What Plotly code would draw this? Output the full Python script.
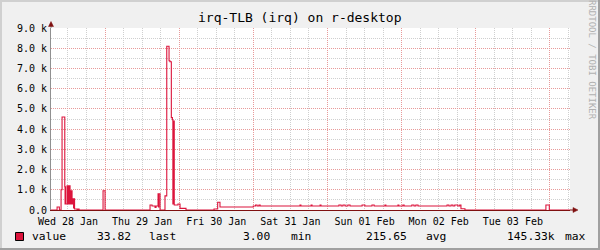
import pandas as pd
import plotly.graph_objects as go

# ---- data (hours since Wed 28 Jan 00:00, value in irq/s; step series) ----
hours = [6.5, 8.47, 9.21, 9.76, 10.08, 10.96, 11.05, 11.12, 11.2, 11.28, 11.70, 12.03, 12.35, 12.67,
         13.0, 13.32, 13.64, 13.8, 13.9, 14.13, 14.94, 15.26, 15.59, 23.35, 24.0,
         38.56, 39.21, 40.18, 40.5, 41.15, 41.3, 41.4, 41.8, 43.4, 43.97, 44.71, 45.0, 45.45, 45.8,
         45.95, 46.0, 46.15, 46.2, 46.4, 47.6, 48.27, 50.2,
         59.27, 60.45, 61.2, 71.98, 72.7, 73.2, 73.8, 74.2, 87.1, 87.4, 90.7, 91.0, 93.6, 93.9,
         99.7, 100.4, 101.0, 101.7, 102.6, 103.3, 107.2, 108.1, 110.4, 111.1, 114.6, 114.9,
         118.8, 119.1, 120.4, 120.8, 123.3, 124.0, 124.6, 125.3, 134.7, 135.3, 136.0, 136.6,
         137.2, 138.2, 138.8, 139.2, 140.5, 166.7, 167.8, 174.5]
values = [0, 150, 0, 1000, 4600, 1150, 300, 1150, 300, 300, 1200, 300, 1200, 300,
          950, 300, 550, 100, 550, 50, 0, 50, 0, 950, 0,
          250, 200, 120, 200, 800, 150, 800, 0, 700, 8100, 7380, 7330, 4570, 4460,
          300, 4400, 300, 4400, 250, 300, 80, 0,
          50, 380, 150, 200, 250, 200, 250, 200, 250, 200, 250, 200, 250, 200,
          250, 200, 250, 200, 250, 200, 250, 200, 250, 200, 250, 200,
          250, 200, 250, 200, 250, 200, 250, 200, 250, 200, 250, 200,
          250, 200, 250, 60, 0, 250, 0, 0]

y_ticks = [0, 1000, 2000, 3000, 4000, 5000, 6000, 7000, 8000, 9000]
y_tick_text = ["0.0", "1.0 k", "2.0 k", "3.0 k", "4.0 k", "5.0 k", "6.0 k", "7.0 k", "8.0 k", "9.0 k"]

legend_name = "value"
legend_stats = [("33.82", "last"), ("3.00", "min"), ("215.65", "avg"), ("145.33k", "max")]

title = "irq-TLB (irq) on r-desktop"
watermark = "RRDTOOL / TOBI OETIKER"

# ---- layout geometry ----
W, H = 600, 250
L, R, T, B = 51, 570, 28, 210
PW, PH = R - L, B - T

def px(x):
    return (x - L) / PW

def py(y):
    return (B - y) / PH

base = pd.Timestamp("2015-01-28 00:00")
times = [base + pd.Timedelta(hours=h) for h in hours]

FONT = "DejaVu Sans Mono"
LINE_COL = "#DC143C"
AXIS_RED = "#7F1010"

fig = go.Figure()
fig.add_trace(go.Scatter(x=times, y=values, mode="lines", line=dict(color=LINE_COL, width=1.1, shape="hv"),
                         hoverinfo="skip", showlegend=False))

fig.update_layout(
    width=W, height=H,
    margin=dict(l=L, r=W - R, t=T, b=H - B, pad=0),
    paper_bgcolor="#F0F0F0", plot_bgcolor="#FFFFFF",
    font=dict(family=FONT, size=10, color="#000000"),
    showlegend=False,
)

fig.update_xaxes(
    type="date",
    range=[base + pd.Timedelta(hours=6.5), base + pd.Timedelta(hours=174.5)],
    tick0=base, dtick=86400000, tickformat="%a %d %b", ticklabelmode="period",
    ticks="", showgrid=True, gridcolor="#E89A9A", gridwidth=1, griddash="1px,1px",
    minor=dict(dtick=6 * 3600000, tick0=base, showgrid=True, gridcolor="#CFCFCF", gridwidth=1, griddash="1px,1px"),
    showline=True, linecolor=AXIS_RED, linewidth=1, zeroline=False,
    tickfont=dict(family=FONT, size=10), ticklabelstandoff=2, fixedrange=True,
)
fig.update_yaxes(
    range=[0, 9000], tickmode="array", tickvals=y_ticks, ticktext=y_tick_text,
    ticks="", showgrid=True, gridcolor="#E89A9A", gridwidth=1, griddash="1px,1px",
    minor=dict(dtick=500, tick0=0, showgrid=True, gridcolor="#CFCFCF", gridwidth=1, griddash="1px,1px"),
    showline=True, linecolor="#909090", linewidth=1, zeroline=False,
    tickfont=dict(family=FONT, size=10), ticklabelstandoff=1, fixedrange=True,
)

shapes = []
# frame shading
shapes.append(dict(type="rect", xref="paper", yref="paper", x0=px(0), x1=px(600), y0=py(0), y1=py(2),
                   fillcolor="#D0D0D0", line_width=0, layer="below"))
shapes.append(dict(type="rect", xref="paper", yref="paper", x0=px(0), x1=px(2), y0=py(0), y1=py(250),
                   fillcolor="#D0D0D0", line_width=0, layer="below"))
shapes.append(dict(type="rect", xref="paper", yref="paper", x0=px(598), x1=px(600), y0=py(0), y1=py(250),
                   fillcolor="#A0A0A0", line_width=0, layer="below"))
shapes.append(dict(type="rect", xref="paper", yref="paper", x0=px(0), x1=px(600), y0=py(248), y1=py(250),
                   fillcolor="#A0A0A0", line_width=0, layer="below"))
# axis extensions and arrows
shapes.append(dict(type="line", xref="paper", yref="paper", x0=1, x1=px(574), y0=0, y1=0,
                   line=dict(color=AXIS_RED, width=1)))
shapes.append(dict(type="path", xref="paper", yref="paper",
                   path=f"M {px(573)},{py(207.5)} L {px(578)},{py(210)} L {px(573)},{py(212.5)} Z",
                   fillcolor=AXIS_RED, line=dict(color=AXIS_RED, width=0.5)))
shapes.append(dict(type="line", xref="paper", yref="paper", x0=0, x1=0, y0=1, y1=py(25),
                   line=dict(color="#909090", width=1)))
shapes.append(dict(type="path", xref="paper", yref="paper",
                   path=f"M {px(48.5)},{py(26.5)} L {px(51)},{py(21.5)} L {px(53.5)},{py(26.5)} Z",
                   fillcolor=AXIS_RED, line=dict(color=AXIS_RED, width=0.5)))
# legend swatch
shapes.append(dict(type="rect", xref="paper", yref="paper", x0=px(15.5), x1=px(23.5), y0=py(232.5), y1=py(240.5),
                   fillcolor=LINE_COL, line=dict(color="#000000", width=1)))
fig.update_layout(shapes=shapes)

ann = []
ann.append(dict(text=title, xref="paper", yref="paper", x=px(300), y=py(18), xanchor="center", yanchor="middle",
                showarrow=False, font=dict(family=FONT, size=13, color="#000000")))
ann.append(dict(text=watermark, xref="paper", yref="paper", x=px(592), y=py(60), xanchor="center", yanchor="middle",
                textangle=90, showarrow=False, font=dict(family=FONT, size=9, color="#B0B0B0")))
ann.append(dict(text=legend_name, xref="paper", yref="paper", x=px(30), y=py(237), xanchor="left", yanchor="middle",
                showarrow=False, font=dict(family=FONT, size=11.3)))
num_right = [133, 272, 409, 557]
lbl_left = [147, 289, 424, 563]
for (num, lbl), nr, ll in zip(legend_stats, num_right, lbl_left):
    ann.append(dict(text=num, xref="paper", yref="paper", x=px(nr), y=py(237), xanchor="right", yanchor="middle",
                    showarrow=False, font=dict(family=FONT, size=11.3)))
    ann.append(dict(text=lbl, xref="paper", yref="paper", x=px(ll), y=py(237), xanchor="left", yanchor="middle",
                    showarrow=False, font=dict(family=FONT, size=11.3)))
fig.update_layout(annotations=ann)

fig.write_html("out.html")
